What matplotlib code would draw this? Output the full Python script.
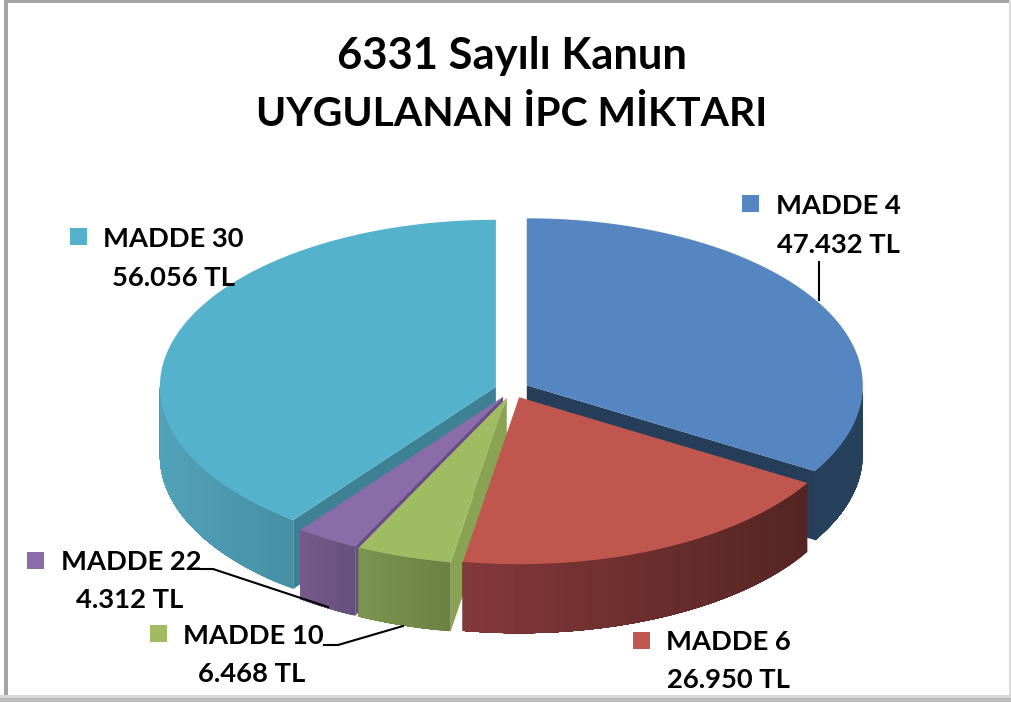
import numpy as np
import matplotlib
matplotlib.use('Agg')
import matplotlib.pyplot as plt
from matplotlib.patches import Polygon, Rectangle

categories = ['MADDE 4', 'MADDE 6', 'MADDE 10', 'MADDE 22', 'MADDE 30']
values = [47432, 26950, 6468, 4312, 56056]
value_labels = ['47.432 TL', '26.950 TL', '6.468 TL', '4.312 TL', '56.056 TL']

top_colors = ['#5586c2', '#c0574f', '#a0bc63', '#8a6ca8', '#55b2cc']
cut_colors = ['#263e59', '#5a2522', '#8aa353', '#6b4a88', '#3e8094']
wall_left = ['#27405c', '#85393a', '#7c9450', '#775a8c', '#51a2b8']
wall_right = ['#27405c', '#552523', '#6c8243', '#66507c', '#4690a6']

# layout, in pixels of the 1011x702 picture
cx, cy = 512, 389.5
rx, ry = 336, 167
depth = 69
explode = 17
legend_xy = [(742, 195), (633, 632), (150, 625), (27, 552), (70, 228)]
name_xy = [(776, 206), (666, 642), (183, 636), (61, 562), (103, 239)]
value_xy = [(838, 245), (728, 680), (252, 674), (130, 600), (173, 278)]
font = 'Lato'

fig = plt.figure(figsize=(10.11, 7.02), dpi=100)
ax = fig.add_axes([0, 0, 1, 1])
ax.set_xlim(0, 1011)
ax.set_ylim(702, 0)
ax.axis('off')

# frame of the picture
ax.add_patch(Rectangle((4, 0), 4, 696, fc='#a4a4a4', ec='none', zorder=0))
ax.add_patch(Rectangle((4, 0), 1007, 2.5, fc='#a4a4a4', ec='none', zorder=0))
ax.add_patch(Rectangle((1009, 0), 2, 696, fc='#dcdcdc', ec='none', zorder=0))
ax.add_patch(Rectangle((0, 695), 1011, 3, fc='#d8d8d8', ec='none', zorder=0))
ax.add_patch(Rectangle((0, 698), 1011, 4, fc='#bcbcbc', ec='none', zorder=0))


def rim(tip, a):
    return tip[0] + rx * np.sin(a), tip[1] - ry * np.cos(a)


def mix(c1, c2, t):
    c1 = np.array(matplotlib.colors.to_rgb(c1))
    c2 = np.array(matplotlib.colors.to_rgb(c2))
    return c1 + (c2 - c1) * t


fracs = np.array(values) / sum(values)
ends = np.cumsum(fracs) * 2 * np.pi
starts = ends - fracs * 2 * np.pi

# back slices first, so the front ones cover them
z = 1
for i in [0, 4, 3, 2, 1]:
    a0, a1 = starts[i], ends[i]
    mid = (a0 + a1) / 2
    tip = (cx + explode * np.sin(mid), cy - explode * 0.5 * np.cos(mid))
    p0 = rim(tip, a0)
    p1 = rim(tip, a1)

    # cut faces, only those turned to the viewer
    faces = []
    if np.sin(a0) < -1e-6:
        faces.append(p0)
    if np.sin(a1) > 1e-6:
        faces.append(p1)
    for p in faces:
        ax.add_patch(Polygon([tip, p, (p[0], p[1] + depth), (tip[0], tip[1] + depth)],
                             fc=cut_colors[i], ec='none', zorder=z))
    z += 1

    # outer wall, only the part that faces the viewer
    # every strip runs on to the far end of the wall, so no seams show
    w0 = max(a0, np.pi / 2)
    w1 = min(a1, 3 * np.pi / 2)
    if w1 > w0:
        steps = np.linspace(w0, w1, 40)
        xs = [rim(tip, a)[0] for a in steps]
        xmin, xmax = min(xs), max(xs)
        for j in range(len(steps) - 1):
            rest = [rim(tip, a) for a in steps[j:]]
            t = (rest[0][0] - xmin) / (xmax - xmin)
            col = mix(wall_left[i], wall_right[i], t)
            pts = rest + [(x, y + depth) for x, y in rest[::-1]]
            ax.add_patch(Polygon(pts, fc=col, ec='none', zorder=z))
            z += 0.001
    z = int(z) + 1

    # top of the slice
    angles = np.linspace(a0, a1, 200)
    pts = [tip] + [rim(tip, a) for a in angles]
    ax.add_patch(Polygon(pts, fc=top_colors[i], ec='none', zorder=z))
    z += 1

# leader lines
ax.plot([819, 819], [262, 300], color='black', lw=1.5, zorder=50)
ax.plot([200, 213, 328], [569, 569, 607], color='black', lw=1.5, zorder=50)
ax.plot([324, 338, 403], [645, 645, 626], color='black', lw=1.5, zorder=50)

# legend keys and labels
for i in range(len(categories)):
    ax.add_patch(Rectangle(legend_xy[i], 17, 17, fc=top_colors[i], ec='none', zorder=60))
    ax.text(name_xy[i][0], name_xy[i][1], categories[i], family=font, weight='bold',
            fontsize=19.7, ha='left', va='center', color='black', zorder=61)
    ax.text(value_xy[i][0], value_xy[i][1], value_labels[i], family=font, weight='bold',
            fontsize=19.7, ha='center', va='center', color='black', zorder=61)

ax.text(512, 56.5, '6331 Sayılı Kanun', family=font, weight='bold', fontsize=31.3,
        ha='center', va='center', color='black')
ax.text(512, 115, 'UYGULANAN İPC MİKTARI', family=font, weight='bold', fontsize=29.4,
        ha='center', va='center', color='black')

fig.savefig('out.png', dpi=100)
